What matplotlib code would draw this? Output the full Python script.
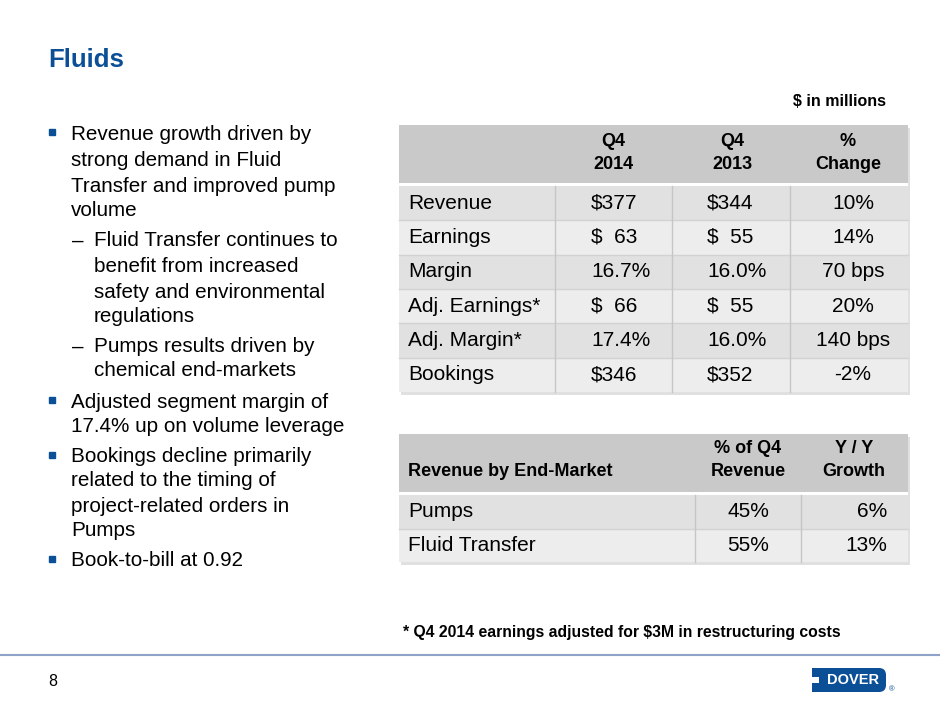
import matplotlib.pyplot as plt
from matplotlib.patches import Rectangle, FancyBboxPatch

plt.rcParams['font.family'] = ['Liberation Sans', 'DejaVu Sans']

# table data
metrics = ['Revenue', 'Earnings', 'Margin', 'Adj. Earnings*', 'Adj. Margin*', 'Bookings']
q4_2014 = ['$377', '$  63', '16.7%', '$  66', '17.4%', '$346']
q4_2013 = ['$344', '$  55', '16.0%', '$  55', '16.0%', '$352']
pct_change = ['10%', '14%', '70 bps', '20%', '140 bps', '-2%']

markets = ['Pumps', 'Fluid Transfer']
share_q4 = ['45%', '55%']
yy_growth = ['6%', '13%']

# bullet text: (level, lines)
bullets = [
    (0, ['Revenue growth driven by', 'strong demand in Fluid', 'Transfer and improved pump', 'volume']),
    (1, ['Fluid Transfer continues to', 'benefit from increased', 'safety and environmental', 'regulations']),
    (1, ['Pumps results driven by', 'chemical end-markets']),
    (0, ['Adjusted segment margin of', '17.4% up on volume leverage']),
    (0, ['Bookings decline primarily', 'related to the timing of', 'project-related orders in', 'Pumps']),
    (0, ['Book-to-bill at 0.92']),
]
line_y = [134, 161, 186, 210, 241, 266, 292, 316, 347, 371, 402, 427, 457, 481, 506, 531, 561]

blue = '#0B4F96'
fig = plt.figure(figsize=(9.4, 7.05), dpi=100)
ax = fig.add_axes([0, 0, 1, 1])
ax.set_xlim(0, 940)
ax.set_ylim(705, 0)
ax.axis('off')

ax.text(48, 60, 'Fluids', fontsize=18.5, fontweight='bold', color=blue, va='center')
ax.text(886, 101, '$ in millions', fontsize=11.5, fontweight='bold', ha='right', va='center')

# bullets
k = 0
for level, lines in bullets:
    for j, s in enumerate(lines):
        y = line_y[k]
        if level == 0:
            if j == 0:
                ax.add_patch(Rectangle((49, y - 5), 6, 6, color=blue))
            ax.text(71, y, s, fontsize=14.9, va='center')
        else:
            if j == 0:
                ax.text(72, y, '–', fontsize=14.9, va='center')
            ax.text(94, y, s, fontsize=14.9, va='center')
        k += 1


def draw_table(x0, x1, top, head_bot, row_top, row_h, col_edges, nrows):
    bot = row_top + row_h * nrows
    # shadow
    ax.add_patch(Rectangle((x0 + 2, top + 3), x1 - x0, bot - top, color='#000000', alpha=0.12, lw=0))
    ax.add_patch(Rectangle((x0, top), x1 - x0, bot - top, color='white', lw=0))
    ax.add_patch(Rectangle((x0, top), x1 - x0, head_bot - top, color='#C9C9C9', lw=0))
    for i in range(nrows):
        c = '#E1E1E1' if i % 2 == 0 else '#EDEDED'
        ax.add_patch(Rectangle((x0, row_top + i * row_h), x1 - x0, row_h, color=c, lw=0))
        if i > 0:
            ax.plot([x0, x1], [row_top + i * row_h] * 2, color='#D2D2D2', lw=1)
    for xe in col_edges:
        ax.plot([xe, xe], [row_top, bot], color='#C6C6C6', lw=1)
    return bot


# main table
row_h = 34.3
draw_table(399, 908, 125, 183, 186, row_h, [555, 672, 790], len(metrics))
for cx, lab in [(613, 'Q4\n2014'), (732, 'Q4\n2013'), (848, '%\nChange')]:
    ax.text(cx, 153, lab, fontsize=13, fontweight='bold', ha='center', va='center', linespacing=1.4)
for i in range(len(metrics)):
    y = 186 + row_h * (i + 0.5)
    ax.text(408, y, metrics[i], fontsize=15, va='center')
    ax.text(591, y, q4_2014[i], fontsize=15, va='center')
    ax.text(707, y, q4_2013[i], fontsize=15, va='center')
    ax.text(853, y, pct_change[i], fontsize=15, va='center', ha='center')

# end-market table
row_h2 = 33.5
draw_table(399, 908, 434, 492, 495, row_h2, [695, 801], len(markets))
ax.text(408, 472, 'Revenue by End-Market', fontsize=13, fontweight='bold', va='center')
ax.text(748, 460, '% of Q4\nRevenue', fontsize=13, fontweight='bold', ha='center', va='center', linespacing=1.4)
ax.text(854, 460, 'Y / Y\nGrowth', fontsize=13, fontweight='bold', ha='center', va='center', linespacing=1.4)
for i in range(len(markets)):
    y = 495 + row_h2 * (i + 0.5)
    ax.text(408, y, markets[i], fontsize=15, va='center')
    ax.text(748, y, share_q4[i], fontsize=15, va='center', ha='center')
    ax.text(887, y, yy_growth[i], fontsize=15, va='center', ha='right')

ax.text(403, 633, '* Q4 2014 earnings adjusted for $3M in restructuring costs', fontsize=11.3,
        fontweight='bold', va='center')

# footer
ax.plot([0, 940], [655, 655], color='#8FA2C8', lw=1.5)
ax.text(48, 681, '8', fontsize=11.5, va='center')
ax.add_patch(FancyBboxPatch((816, 668), 70, 24, boxstyle='round,pad=0,rounding_size=7',
                            color=blue, lw=0))
ax.add_patch(Rectangle((812, 668), 10, 24, color=blue, lw=0))
ax.add_patch(Rectangle((812, 677), 7, 6, color='white', lw=0))
ax.text(853, 680.5, 'DOVER', fontsize=10.5, fontweight='bold', color='white', ha='center', va='center')
ax.text(892, 690, '®', fontsize=5.5, color=blue, ha='center', va='center')

fig.savefig('out.png', dpi=100)
